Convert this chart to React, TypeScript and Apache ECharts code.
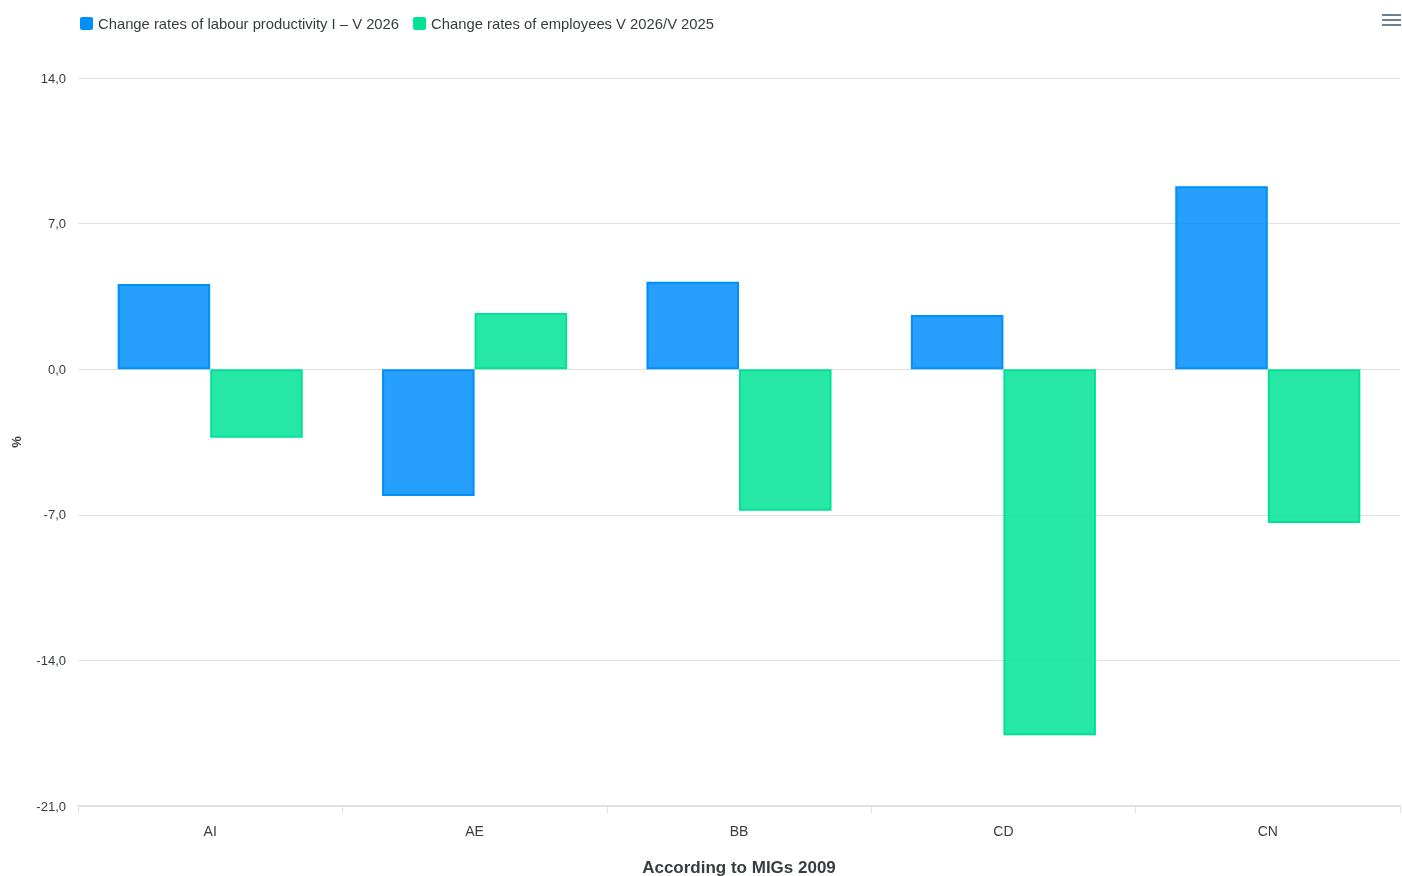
import React, { useEffect, useRef } from "react";
import * as echarts from "echarts";

const categories = ["AI", "AE", "BB", "CD", "CN"];
const productivity = [4.1, -6.1, 4.2, 2.6, 8.8];
const employees = [-3.3, 2.7, -6.8, -17.6, -7.4];
const seriesNames = [
  "Change rates of labour productivity I – V 2026",
  "Change rates of employees V 2026/V 2025",
];
const xAxisTitle = "According to MIGs 2009";
const yAxisTitle = "%";

export default function App() {
  const ref = useRef<HTMLDivElement>(null);
  useEffect(() => {
    if (!ref.current) return;
    document.body.style.margin = "0";
    const chart = echarts.init(ref.current, undefined, { renderer: "svg" });
    const font = "Helvetica, Arial, 'Liberation Sans', sans-serif";
    chart.setOption({
      animation: false,
      textStyle: { fontFamily: font },
      legend: {
        left: 75,
        top: 11,
        itemWidth: 13,
        itemHeight: 13,
        itemGap: 14,
        icon: "path://M2,0 L11,0 Q13,0 13,2 L13,11 Q13,13 11,13 L2,13 Q0,13 0,11 L0,2 Q0,0 2,0 Z",
        textStyle: { fontSize: 14.8, color: "#373d3f", fontFamily: font },
        data: [
          { name: seriesNames[0], itemStyle: { color: "#008FFB", borderWidth: 0 } },
          { name: seriesNames[1], itemStyle: { color: "#00E396", borderWidth: 0 } },
        ],
      },
      grid: {
        left: 78,
        right: 2,
        top: 78,
        bottom: 70,
        containLabel: false,
        outerBoundsMode: "none",
      },
      xAxis: {
        type: "category",
        data: categories,
        position: "bottom",
        axisLine: { onZero: false, lineStyle: { color: "#e0e0e0", width: 2 } },
        axisTick: { show: true, length: 7, lineStyle: { color: "#e0e0e0" } },
        axisLabel: { fontSize: 14, color: "#373d3f", margin: 18 },
        name: xAxisTitle,
        nameLocation: "middle",
        nameGap: 53,
        nameTextStyle: { fontSize: 17, fontWeight: "bold", color: "#373d3f" },
      },
      yAxis: {
        type: "value",
        min: -21,
        max: 14,
        interval: 7,
        axisLabel: {
          fontSize: 13,
          color: "#373d3f",
          margin: 12,
          formatter: (v: number) => v.toFixed(1).replace(".", ","),
        },
        axisLine: { show: false },
        axisTick: { show: false },
        splitLine: { lineStyle: { color: "#e0e0e0" } },
        name: yAxisTitle,
        nameLocation: "middle",
        nameGap: 55,
        nameRotate: 90,
        nameTextStyle: { fontSize: 13, fontWeight: "bold", color: "#373d3f" },
      },
      series: [
        {
          name: seriesNames[0],
          type: "bar",
          data: productivity,
          barGap: "0%",
          barCategoryGap: "30%",
          itemStyle: {
            color: "rgba(0,143,251,0.85)",
            borderColor: "#008FFB",
            borderWidth: 2,
          },
        },
        {
          name: seriesNames[1],
          type: "bar",
          data: employees,
          barGap: "0%",
          barCategoryGap: "30%",
          itemStyle: {
            color: "rgba(0,227,150,0.85)",
            borderColor: "#00E396",
            borderWidth: 2,
          },
        },
      ],
      color: ["#008FFB", "#00E396"],
      graphic: [
        { type: "rect", right: 1, top: 14, shape: { width: 19, height: 2 }, style: { fill: "#6e8192" } },
        { type: "rect", right: 1, top: 19, shape: { width: 19, height: 2 }, style: { fill: "#6e8192" } },
        { type: "rect", right: 1, top: 24, shape: { width: 19, height: 2 }, style: { fill: "#6e8192" } },
      ],
    });
    return () => chart.dispose();
  }, []);
  return (
    <div
      ref={ref}
      style={{ position: "fixed", left: 0, top: 0, width: 1402, height: 876 }}
    />
  );
}
